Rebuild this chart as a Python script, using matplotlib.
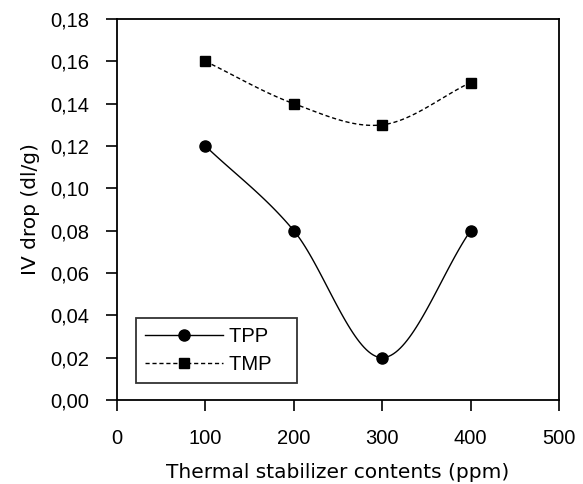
import matplotlib.pyplot as plt
import numpy as np

plt.rcParams['font.family'] = ['Liberation Sans', 'DejaVu Sans']

# data
contents = [100, 200, 300, 400]
tpp = [0.12, 0.08, 0.02, 0.08]
tmp = [0.16, 0.14, 0.13, 0.15]
x_ticks = [0, 100, 200, 300, 400, 500]
y_ticks = [0.00, 0.02, 0.04, 0.06, 0.08, 0.10, 0.12, 0.14, 0.16, 0.18]


def smooth(x, y, n=40):
    # catmull-rom curve through the points (like excel "smoothed line")
    x = np.asarray(x, float)
    y = np.asarray(y, float)
    px = np.concatenate([[2 * x[0] - x[1]], x, [2 * x[-1] - x[-2]]])
    py = np.concatenate([[2 * y[0] - y[1]], y, [2 * y[-1] - y[-2]]])
    xs, ys = [], []
    t = np.linspace(0, 1, n)
    for i in range(1, len(px) - 2):
        for p, out in ((px, xs), (py, ys)):
            p0, p1, p2, p3 = p[i - 1], p[i], p[i + 1], p[i + 2]
            out.extend(0.5 * (2 * p1 + (-p0 + p2) * t
                              + (2 * p0 - 5 * p1 + 4 * p2 - p3) * t ** 2
                              + (-p0 + 3 * p1 - 3 * p2 + p3) * t ** 3))
    return xs, ys


fig = plt.figure(figsize=(5.83, 4.84), dpi=100)
ax = fig.add_axes([117 / 583, 1 - 400 / 484, 442 / 583, 381 / 484])

sx, sy = smooth(contents, tpp)
ax.plot(sx, sy, color='black', lw=1.0)
ax.plot(contents, tpp, 'o', color='black', ms=8)
ax.plot([], [], '-o', color='black', lw=1.0, ms=8, label='TPP   ')

sx, sy = smooth(contents, tmp)
ax.plot(sx, sy, color='black', lw=1.0, ls=(0, (3, 2)))
ax.plot(contents, tmp, 's', color='black', ms=7)
ax.plot([], [], ls=(0, (3, 2)), marker='s', color='black', lw=1.0, ms=7, label='TMP   ')

ax.set_xlim(0, 500)
ax.set_ylim(0, 0.18)
ax.set_xticks(x_ticks)
ax.set_yticks(y_ticks)
ax.set_yticklabels([f'{v:.2f}'.replace('.', ',') for v in y_ticks])
ax.tick_params(direction='out', length=8, width=1.2, labelsize=14.5)
ax.tick_params(axis='x', pad=13)
ax.tick_params(axis='y', pad=12)
ax.set_xlabel('Thermal stabilizer contents (ppm)', fontsize=14.5,
              family='DejaVu Sans', labelpad=11)
ax.set_ylabel('IV drop (dl/g)', fontsize=14.5, family='DejaVu Sans', labelpad=7)
for s in ax.spines.values():
    s.set_linewidth(1.3)

leg = ax.legend(loc='lower left', bbox_to_anchor=(0.043, 0.045), fontsize=14.5,
                frameon=True, fancybox=False, edgecolor='black',
                handlelength=3.85, handletextpad=0.3, borderpad=0.45,
                labelspacing=0.45, borderaxespad=0)
leg.get_frame().set_linewidth(1.3)

fig.savefig('out.png', dpi=100)
